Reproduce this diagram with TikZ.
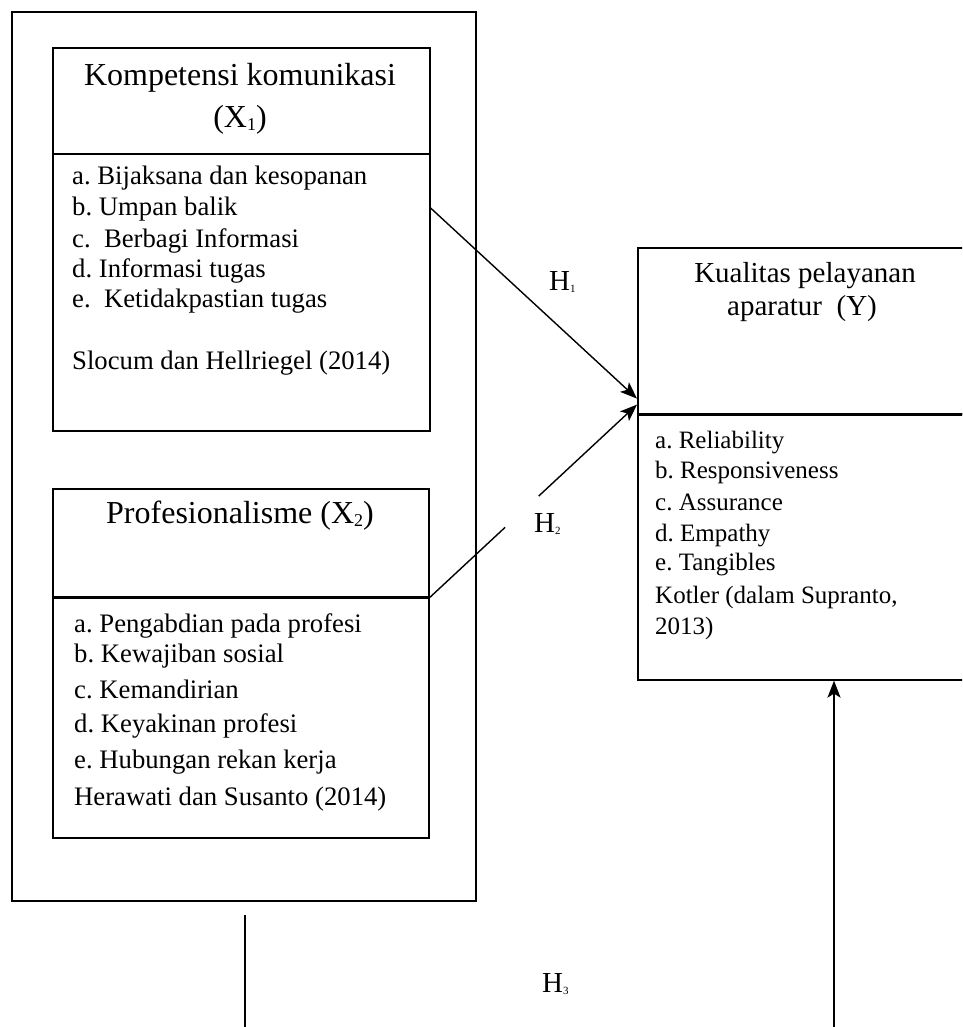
\documentclass[tikz,border=0pt]{standalone}
\usepackage{fontspec}
\setmainfont{Liberation Serif}
\usetikzlibrary{arrows.meta,calc}
\newcommand{\hsub}[1]{\raisebox{-2pt}{\fontsize{11}{11}\selectfont #1}}
\newcommand{\xsub}[1]{\raisebox{-3pt}{\fontsize{18}{18}\selectfont #1}}
\begin{document}
\frenchspacing
\begin{tikzpicture}[x=1pt,y=-1pt,
  box/.style={draw, line width=1.6pt, inner sep=0pt, anchor=north west},
  divline/.style={line width=3.2pt},
  conn/.style={line width=1.4pt, -{Stealth[length=17pt,width=13pt,inset=4pt]}},
  plainline/.style={line width=1.4pt},
  ttl/.style={font=\fontsize{32}{42}\selectfont, anchor=base, inner sep=0pt},
  rttl/.style={font=\fontsize{29}{36}\selectfont, anchor=base, inner sep=0pt},
  litem/.style={font=\fontsize{26.7}{30}\selectfont, anchor=base west, inner sep=0pt},
  ritem/.style={font=\fontsize{25}{30}\selectfont, anchor=base west, inner sep=0pt},
  hlab/.style={font=\fontsize{29}{30}\selectfont, anchor=base west, inner sep=0pt}]
\clip (0,0) rectangle (962,1027);
\fill[white] (0,0) rectangle (962,1027);
% outer frame
\node[box, minimum width=464pt, minimum height=889pt] (outer) at (11,11) {};
% box X1
\node[box, minimum width=377pt, minimum height=106pt] (k1t) at (52,47) {};
\node[box, minimum width=377pt, minimum height=277pt] (k1b) at (52,153) {};
\node[ttl] (k1n1) at (240,86) {Kompetensi komunikasi};
\node[ttl] (k1n2) at (240,128) {(X\xsub{1})};
\foreach \t/\yy [count=\i] in {a. Bijaksana dan kesopanan/185, b. Umpan balik/215, c.\ \ Berbagi Informasi/247, d. Informasi tugas/277, e.\ \ Ketidakpastian tugas/307, Slocum dan Hellriegel (2014)/369}
  \node[litem] (k1l\i) at (72,\yy) {\t};
% box X2
\node[box, minimum width=376pt, minimum height=108pt] (p2t) at (52,488) {};
\node[box, minimum width=376pt, minimum height=241pt] (p2b) at (52,596) {};
\draw[divline] (p2t.south west) -- (p2t.south east);
\node[ttl] (p2n) at (240,523) {Profesionalisme (X\xsub{2})};
\foreach \t/\yy [count=\i] in {a. Pengabdian pada profesi/632, b. Kewajiban sosial/662, c. Kemandirian/698, d. Keyakinan profesi/732, e. Hubungan rekan kerja/768, Herawati dan Susanto (2014)/805}
  \node[litem] (p2l\i) at (74,\yy) {\t};
% box Y
\node[box, minimum width=345pt, minimum height=166pt] (yt) at (637,247) {};
\node[box, minimum width=345pt, minimum height=266pt] (yb) at (637,413) {};
\draw[divline] (yt.south west) -- (yt.south east);
\node[rttl] (yn1) at (805,282) {Kualitas pelayanan};
\node[rttl] (yn2) at (802,315) {aparatur\ \ (Y)};
\foreach \t/\yy [count=\i] in {a. Reliability/448, b. Responsiveness/478, c. Assurance/510, d. Empathy/541, e. Tangibles/570, {Kotler (dalam Supranto,}/603, 2013)/634}
  \node[ritem] (yl\i) at (655,\yy) {\t};
% connectors
\coordinate (tip1) at ([yshift=16pt]yt.south west);
\coordinate (tip2) at ([yshift=10pt]yt.south west);
\draw[conn] ([yshift=-55pt]k1b.north east) -- (tip1);
\coordinate (h2a) at ($(p2t.south east)!0.364!(tip2)$);
\coordinate (h2b) at ($(p2t.south east)!0.526!(tip2)$);
\draw[plainline] (p2t.south east) -- (h2a);
\draw[conn] (h2b) -- (tip2);
\node[hlab] (h1) at (549,290) {H\hsub{1}};
\node[hlab] (h2) at (534,532) {H\hsub{2}};
\node[hlab] (h3) at (542,992) {H\hsub{3}};
\coordinate (h3l) at (245,915);
\coordinate (h3lb) at (245,1035);
\draw[plainline] (h3l) -- (h3lb);
\coordinate (h3rb) at (834,1035);
\draw[conn, line width=1.8pt] (h3rb) -- ([xshift=197pt]yb.south west);
\end{tikzpicture}
\end{document}
